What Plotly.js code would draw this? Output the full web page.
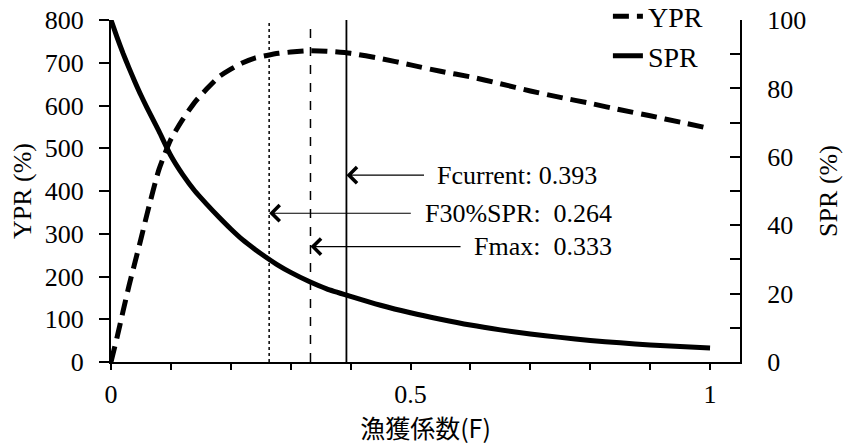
<!DOCTYPE html>
<html>
<head>
<meta charset="utf-8">
<script src="https://cdn.plot.ly/plotly-3.0.1.min.js"></script>
<style>html,body{margin:0;padding:0;background:#fff;}#chart{width:846px;height:445px;}</style>
</head>
<body>
<div id="chart"></div>
<script>
// Fishing mortality grid
const F = [0,0.01,0.02,0.03,0.04,0.05,0.06,0.08,0.10,0.12,0.14,0.16,0.18,0.20,0.22,0.24,0.26,0.28,0.30,0.33,0.36,0.40,0.45,0.50,0.55,0.60,0.65,0.70,0.75,0.80,0.85,0.90,0.95,1.00];
// YPR (%) – left axis
const YPR = [0,57,118,178,233,288,345,450,521,568,608,639,667,685,700,711,717,722,725,728,727,722,710,695,680,667,651,634,619,605,590,576,561,546];
// SPR (%) – right axis
const SPR = [100,95.0,90.3,86.0,81.9,78.0,74.4,67.5,60.3,54.7,50.0,46.1,42.4,38.9,35.7,33.0,30.5,28.2,26.2,23.6,21.4,19.2,16.6,14.4,12.5,10.8,9.4,8.2,7.2,6.3,5.6,5.0,4.5,4.1];
// Reference points
const refNames = ["Fcurrent", "F30%SPR", "Fmax"];
const refF = [0.393, 0.264, 0.333];
const refLabels = ["Fcurrent: 0.393", "F30%SPR:\u00a0\u00a00.264", "Fmax:\u00a0\u00a00.333"];
const xTickLabels = ["0", "0.5", "1"];

const serif = "Liberation Serif";
const refDash = ["solid", "dot", "dash"];
const refWidth = [1.8, 1.5, 1.5];
const arrowY = [437, 348, 270];
const arrowTailF = [0.525, 0.503, 0.586];
const textF = [0.541, 0.521, 0.603];

const traces = [
  {x: F, y: YPR, name: "YPR", type: "scatter", mode: "lines", yaxis: "y",
   line: {color: "#000", width: 5, dash: "16px,8px", shape: "spline", smoothing: 0.6}},
  {x: F, y: SPR, name: "SPR", type: "scatter", mode: "lines", yaxis: "y2",
   line: {color: "#000", width: 5, shape: "spline", smoothing: 0.6}}
];

const shapes = refF.map((f, i) => ({
  type: "line", xref: "x", yref: "paper", x0: f, x1: f, y0: 0, y1: 1,
  line: {color: "#000", width: refWidth[i], dash: refDash[i]}
}));

const annotations = [];
refF.forEach((f, i) => {
  annotations.push({x: f, y: arrowY[i], xref: "x", yref: "y", ax: arrowTailF[i], ay: arrowY[i],
    axref: "x", ayref: "y", text: "", showarrow: true, arrowhead: 4, arrowsize: 2.6,
    arrowwidth: 1.2, arrowcolor: "#000"});
  annotations.push({x: textF[i], y: arrowY[i], xref: "x", yref: "y", text: refLabels[i],
    showarrow: false, xanchor: "left", yanchor: "middle",
    font: {family: serif, size: 26, color: "#000"}});
});

const layout = {
  width: 846, height: 445,
  margin: {l: 111, r: 106, t: 20, b: 83, autoexpand: false},
  paper_bgcolor: "#fff", plot_bgcolor: "#fff",
  font: {family: serif, color: "#000", size: 25},
  showlegend: true,
  legend: {x: 0.79, xanchor: "left", y: 1.083, yanchor: "top", bgcolor: "rgba(0,0,0,0)",
    font: {family: serif, size: 28, color: "#000"}, traceorder: "normal"},
  xaxis: {range: [0, 1.05], tickmode: "array", tickvals: [0, 0.5, 1], ticktext: xTickLabels,
    ticks: "outside", ticklen: 6, tickwidth: 2, tickcolor: "#000",
    minor: {dtick: 0.1, tick0: 0, ticks: "outside", ticklen: 6, tickwidth: 2, tickcolor: "#000"},
    showline: true, linecolor: "#000", linewidth: 2, showgrid: false, zeroline: false,
    tickfont: {family: serif, size: 26}, ticklabelstandoff: 2, automargin: false,
    title: {text: "漁獲係数(F)", font: {family: "Noto Sans CJK JP", size: 25}, standoff: 7}},
  yaxis: {range: [0, 800], dtick: 100, ticks: "outside", ticklen: 10, tickwidth: 2, tickcolor: "#000",
    showline: true, linecolor: "#000", linewidth: 2, showgrid: false, zeroline: false,
    tickfont: {family: serif, size: 26}, ticklabelstandoff: 10, automargin: false,
    title: {text: "YPR (%)", font: {family: serif, size: 26}, standoff: 6}},
  yaxis2: {range: [0, 100], dtick: 20, overlaying: "y", side: "right", anchor: "x",
    ticks: "inside", ticklen: 10, tickwidth: 2, tickcolor: "#000",
    minor: {dtick: 10, ticks: "inside", ticklen: 10, tickwidth: 2, tickcolor: "#000"},
    showline: true, linecolor: "#000", linewidth: 2, showgrid: false, zeroline: false,
    tickfont: {family: serif, size: 26}, ticklabelstandoff: 20, automargin: false,
    title: {text: "SPR (%)", font: {family: serif, size: 26}, standoff: 14}},
  shapes: shapes,
  annotations: annotations
};

Plotly.newPlot("chart", traces, layout, {displayModeBar: false, staticPlot: true});
</script>
</body>
</html>
